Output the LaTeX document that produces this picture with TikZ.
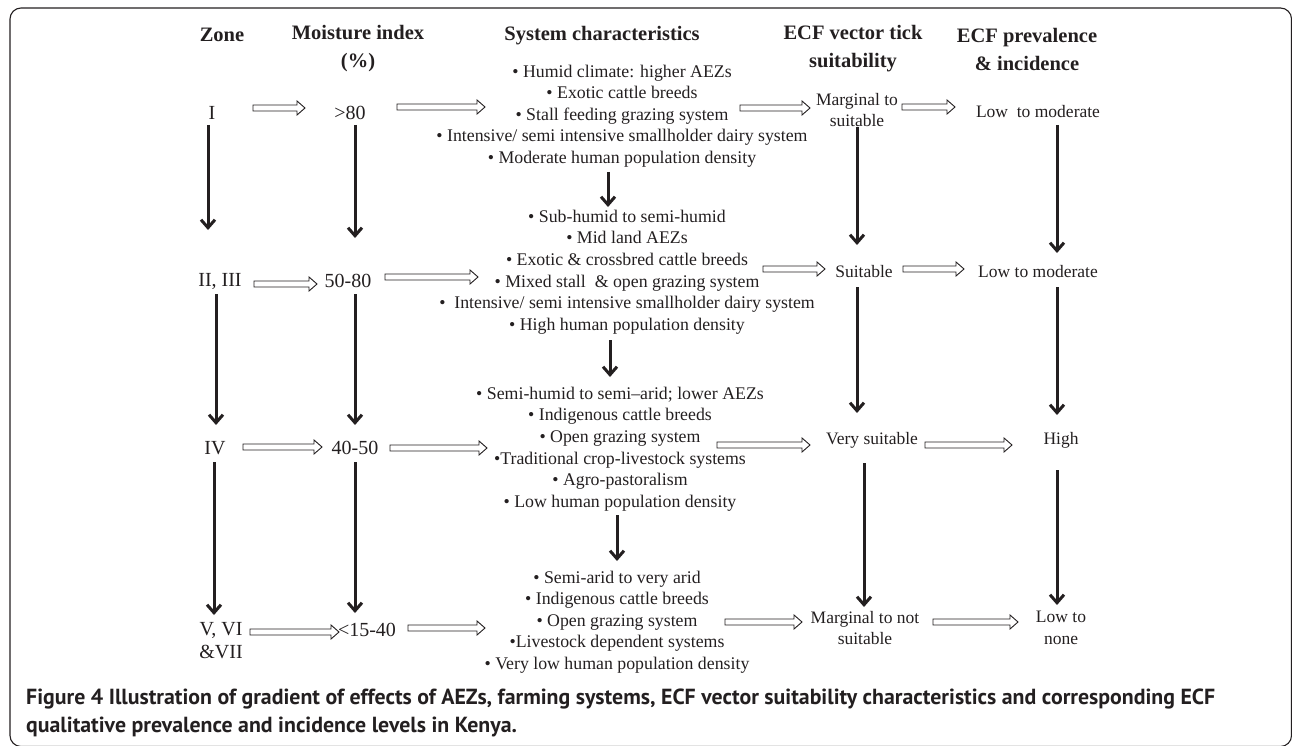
\documentclass[tikz,border=0pt]{standalone}
\usepackage{fontspec}
\setmainfont{Liberation Serif}
\newfontfamily\capfont{PT Sans}
\usetikzlibrary{calc,arrows.meta}
\definecolor{ink}{RGB}{35,31,32}
\newcommand\harrow[2]{\draw[hol] let \p1=#1, \p2=#2 in (\x1,\y1+3pt) -- (\x2-8pt,\y1+3pt) -- (\x2-8pt,\y1+7pt) -- (\x2,\y1) -- (\x2-8pt,\y1-7pt) -- (\x2-8pt,\y1-3pt) -- (\x1,\y1-3pt) -- cycle;}
\tikzset{
  base/.style={inner sep=0pt, align=center, text=ink},
  head/.style={base, font=\fontsize{20.5}{28}\selectfont\bfseries},
  lab/.style={base, font=\fontsize{20}{23}\selectfont},
  blk/.style={base, font=\fontsize{17.8}{21.6}\selectfont},
  col/.style={base, font=\fontsize{17.5}{21}\selectfont},
  hol/.style={draw=ink, fill=white, line width=0.9pt, line join=miter},
  down/.style={draw=ink, line width=3pt, -{Straight Barb[length=8pt,width=14pt]}},
}
\begin{document}
\begin{tikzpicture}[x=1pt,y=-1pt]
\useasboundingbox (0,0) rectangle (1292,746);
\draw[ink, line width=1.1pt, rounded corners=11pt] (10,8) rectangle (1291.5,746.5);
% headers
\node[head] (H1) at (222,35) {Zone};
\node[head] (H2) at (358,49) {Moisture index\\(\%)};
\node[head] (H3) at (602,36) {System characteristics};
\node[head] (H4) at (853,49) {ECF vector tick\\suitability};
\node[head] (H5) at (1027,49) {ECF prevalence\\\& incidence};
% zone column
\node[lab] (Z1) at (212,113) {I};
\node[lab] (Z2) at (220,281) {II, III};
\node[lab] (Z3) at (215,448) {IV};
\node[lab] (Z4) at (221,641) {V, VI\\\&VII};
% moisture column
\node[lab] (M1) at (350,113) {>80};
\node[lab] (M2) at (348,281) {50-80};
\node[lab] (M3) at (355,448) {40-50};
\node[lab] (M4) at (367,630) {<15-40};
% system blocks
\node[blk] (B1) at (622,116) {• Humid climate: higher AEZs\\• Exotic cattle breeds\\• Stall feeding grazing system\\• Intensive/ semi intensive smallholder dairy system\\• Moderate human population density};
\node[blk] (B2) at (627,272) {• Sub-humid to semi-humid\\• Mid land AEZs\\• Exotic \& crossbred cattle breeds\\• Mixed stall\ \ \& open grazing system\\•\ \ Intensive/ semi intensive smallholder dairy system\\• High human population density};
\node[blk] (B3) at (620,449) {• Semi-humid to semi–arid; lower AEZs\\• Indigenous cattle breeds\\• Open grazing system\\•Traditional crop-livestock systems\\• Agro-pastoralism\\• Low human population density};
\node[blk] (B4) at (617,622) {• Semi-arid to very arid\\• Indigenous cattle breeds\\• Open grazing system\\•Livestock dependent systems\\• Very low human population density};
% suitability column
\node[col] (S1) at (857,110) {Marginal to\\suitable};
\node[col] (S2) at (864,272) {Suitable};
\node[col] (S3) at (872,440) {Very suitable};
\node[col, font=\fontsize{17.5}{21.5}\selectfont] (S4) at (865,628) {Marginal to not\\suitable};
% prevalence column
\node[col] (P1) at (1038,112) {Low\ \ to moderate};
\node[col] (P2) at (1038,272) {Low to moderate};
\node[col] (P3) at (1061,440) {High};
\node[col, font=\fontsize{17.5}{21.5}\selectfont] (P4) at (1061,628) {Low to\\none};
% vertical arrows
\draw[down] ($(Z1)+(-4,12)$) -- ($(Z2)+(-12,-51)$);
\draw[down] ($(Z2)+(-4,13)$) -- ($(Z3)+(1,-23)$);
\draw[down] ($(Z3)+(-1,14)$) -- ($(Z4)+(-7,-26)$);
\draw[down] ($(M1)+(5,12)$) -- ($(M2)+(7,-43)$);
\draw[down] ($(M2)+(7,13)$) -- ($(M3)+(0,-23)$);
\draw[down] ($(M3)+(0,14)$) -- ($(M4)+(-12,-17)$);
\draw[down] ($(B1)+(-14,56)$) -- ($(B2)+(-19,-65)$);
\draw[down] ($(B2)+(-17,68)$) -- ($(B3)+(-10,-72)$);
\draw[down] ($(B3)+(-3,66)$) -- ($(B4)+(0,-61)$);
\draw[down] ($(S1)+(0,17)$) -- ($(S2)+(-7,-27)$);
\draw[down] ($(S2)+(-7,15)$) -- ($(S3)+(-15,-27)$);
\draw[down] ($(S3)+(-8,23)$) -- ($(S4)+(-1,-21)$);
\draw[down] ($(P1)+(19,13)$) -- ($(P2)+(19,-19)$);
\draw[down] ($(P2)+(19,15)$) -- ($(P3)+(-4,-25)$);
\draw[down] ($(P3)+(-4,30)$) -- ($(P4)+(-4,-23)$);
% hollow arrows
\harrow{($(Z1)+(41,-5)$)}{($(M1)+(-45,-5)$)}
\harrow{($(M1)+(47,-6)$)}{($(B1)+(-137,-9)$)}
\harrow{($(B1)+(118,-8)$)}{($(S1)+(-47,-2)$)}
\harrow{($(S1)+(45,-3)$)}{($(P1)+(-83,-5)$)}
\harrow{($(Z2)+(34,3)$)}{($(M2)+(-31,3)$)}
\harrow{($(M2)+(37,-4)$)}{($(B2)+(-149,5)$)}
\harrow{($(B2)+(136,-3)$)}{($(S2)+(-39,-3)$)}
\harrow{($(S2)+(39,-3)$)}{($(P2)+(-74,-3)$)}
\harrow{($(Z3)+(28,-1)$)}{($(M3)+(-33,-1)$)}
\harrow{($(M3)+(35,0)$)}{($(B3)+(-133,0)$)}
\harrow{($(B3)+(97,-4)$)}{($(S3)+(-62,5)$)}
\harrow{($(S3)+(53,5)$)}{($(P3)+(-49,5)$)}
\harrow{($(Z4)+(29,-9)$)}{($(M4)+(-28,2)$)}
\harrow{($(M4)+(41,-2)$)}{($(B4)+(-132,6)$)}
\harrow{($(B4)+(108,0)$)}{($(S4)+(-63,-6)$)}
\harrow{($(S4)+(68,-6)$)}{($(P4)+(-43,-6)$)}
% caption
\node[base, anchor=west, align=left] (CAP) at (26,713) {\resizebox{1189pt}{!}{\capfont\bfseries\fontsize{18}{22.5}\selectfont\begin{tabular}{@{}l@{}}Figure 4 Illustration of gradient of effects of AEZs, farming systems, ECF vector suitability characteristics and corresponding ECF\\qualitative prevalence and incidence levels in Kenya.\end{tabular}}};
\end{tikzpicture}
\end{document}
